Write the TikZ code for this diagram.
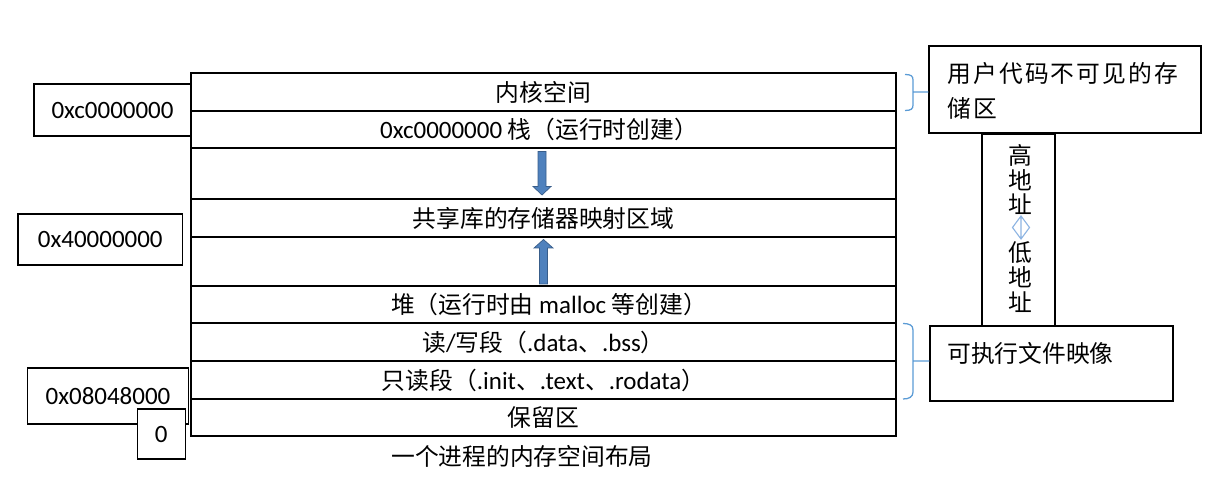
\documentclass[tikz,border=0pt]{standalone}
\usepackage{fontspec}
\setmainfont{Carlito}[Scale=1.05]
\newfontfamily\cjk{Noto Sans CJK SC}
\newfontfamily\cjkwide{Noto Sans CJK SC}[LetterSpace=9]
\definecolor{arrowfill}{RGB}{79,129,189}
\definecolor{arrowedge}{RGB}{56,93,138}
\definecolor{bracecol}{RGB}{91,155,213}
\definecolor{updowncol}{RGB}{141,180,226}
\newcommand{\px}{0.025cm}

\tikzset{
  frame/.style={draw, line width=0.8pt},
  addrbox/.style={frame, fill=white, inner sep=0pt},
  rowlabel/.style={inner sep=0pt},
  blockarrow/.style={fill=arrowfill, draw=arrowedge, line width=0.5pt},
  brace/.style={draw=bracecol, line width=0.9pt},
  updown/.style={draw=updowncol, line width=0.8pt, line join=miter}
}

\begin{document}
\begin{tikzpicture}[x=\px, y=-\px, font=\fontsize{16.9}{20.3}\selectfont]
      \useasboundingbox (0,0) rectangle (1209,477);
      % memory layout
      \draw[frame] (191,73) rectangle (896,436);
      \foreach \y in {111, 148, 199, 237, 286, 323, 361, 399}
        \draw[frame] (191,\y) -- (896,\y);
      \node[rowlabel] (kernel) at (543.5,92) {\cjk 内核空间};
      \node[rowlabel] (stack) at (539,129.5) {0xc0000000 {\cjk 栈（运行时创建）}};
      \node[rowlabel] (shlib) at (543.5,218) {\cjk 共享库的存储器映射区域};
      \node[rowlabel] (heap) at (549,304.5) {{\cjk 堆（运行时由} malloc {\cjk 等创建）}};
      \node[rowlabel] (rwseg) at (543.5,342) {{\cjk 读}/{\cjk 写段（}.data{\cjk 、}.bss{\cjk ）}};
      \node[rowlabel] (roseg) at (543.5,380) {{\cjk 只读段（}.init{\cjk 、}.text{\cjk 、}.rodata{\cjk ）}};
      \node[rowlabel] (reserved) at (543.5,417.5) {\cjk 保留区};
      \node[rowlabel] (caption) at (522,456) {\cjk 一个进程的内存空间布局};
      % growth arrows
      \draw[blockarrow] (538,151.5) -- (546,151.5) -- (546,186.5) -- (551,186.5)
        -- (542,195) -- (533,186.5) -- (538,186.5) -- cycle;
      \draw[blockarrow] (539.5,284) -- (547.5,284) -- (547.5,248) -- (553,248)
        -- (543.5,239.5) -- (534,248) -- (539.5,248) -- cycle;
      % addresses
      \node[addrbox, minimum width=157*\px, minimum height=52*\px] (kaddr) at (112.5,110) {0xc0000000};
      \node[addrbox, minimum width=164.5*\px, minimum height=51*\px] (saddr) at (100.3,239.5) {0x40000000};
      \node[addrbox, minimum width=161.4*\px, minimum height=56*\px] (taddr) at (108,396) {0x08048000};
      \node[addrbox, minimum width=48*\px, minimum height=50*\px] (zaddr) at (161.3,434) {0};
      % right side notes
      \node[frame, minimum width=272*\px, minimum height=87*\px] (user) at (1065,89.5) {};
      \node[anchor=west, align=left, inner sep=0pt, font=\fontsize{16.9}{24.9}\selectfont\cjkwide]
        (usertext) at (947,90.5) {用户代码不可见的存\\储区};
      \node[frame, minimum width=73*\px, minimum height=192*\px] (dir) at (1018.5,230) {};
      \foreach \ch/\y [count=\i] in {高/155, 地/180, 址/204, 低/253, 地/277, 址/302}
        \node[rowlabel] (dirch\i) at (1020,\y) {\cjk \ch};
      \draw[updown] (1021,216) -- (1029.5,227.5) -- (1021,239) -- (1012.5,227.5) -- cycle
        (1021,216) -- (1021,239);
      \node[frame, minimum width=243*\px, minimum height=75*\px] (exe) at (1051.5,363.5) {};
      \node[anchor=west, inner sep=0pt] (exetext) at (947,353) {\cjk 可执行文件映像};
      % braces
      \draw[brace] (905,74.5) .. controls (911,74.5) and (913,76) .. (913,80)
        -- (913,105) .. controls (913,109) and (911,110.5) .. (905,110.5)
        (913,92) -- (913,92 -| user.west);
      \draw[brace] (903,323.5) .. controls (909,323.5) and (913,325) .. (913,330)
        -- (913,392) .. controls (913,397) and (909,399) .. (903,399)
        (913,361) -- (913,361 -| exe.west);
    \end{tikzpicture}
\end{document}
